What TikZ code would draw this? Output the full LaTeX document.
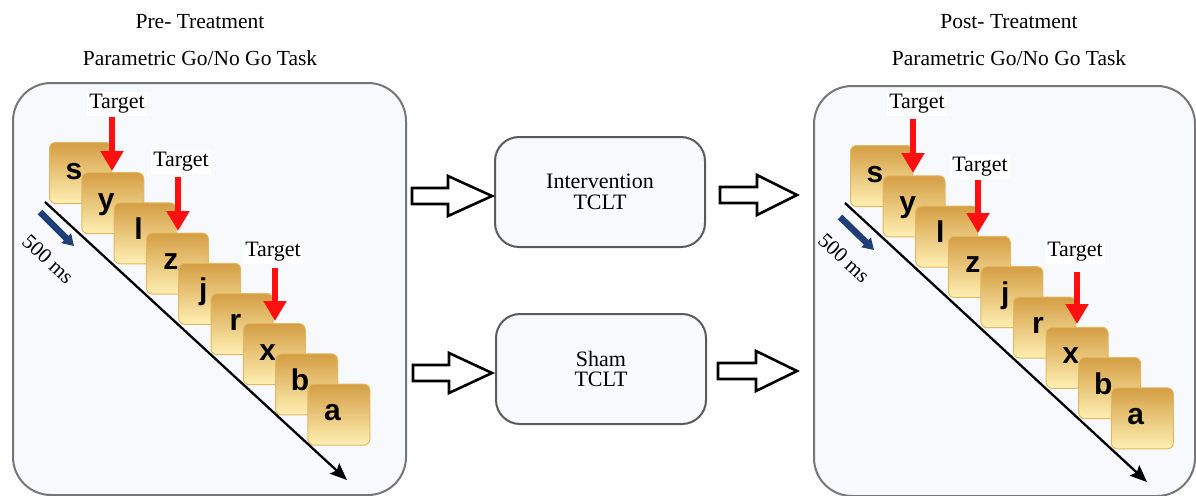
\documentclass[tikz,border=0pt]{standalone}
\usepackage{fontspec}
\setmainfont{Liberation Serif}
\newfontfamily\cardfont{Liberation Sans}
\usetikzlibrary{arrows.meta,calc}
\definecolor{cardtop}{HTML}{D49E44}
\definecolor{cardbot}{HTML}{FFF0B4}
\definecolor{cardedge}{HTML}{E4B860}
\definecolor{panelbg}{HTML}{F7F9FC}
\definecolor{panelline}{HTML}{767676}
\definecolor{boxline}{HTML}{5A5A5A}
\definecolor{blueArr}{HTML}{1F3E78}
\definecolor{redArr}{HTML}{FF1010}
\tikzset{
  panel/.style={draw=panelline, line width=2pt, fill=panelbg, rounded corners=38pt, anchor=north west},
  midbox/.style={draw=boxline, line width=2pt, fill=panelbg, rounded corners=24pt, minimum width=210pt, minimum height=110pt, align=center, font=\fontsize{22}{20.5}\selectfont},
  title/.style={font=\fontsize{21.5}{22}\selectfont, inner sep=0pt},
  target/.style={font=\fontsize{22}{22}\selectfont, fill=white, inner sep=2pt},
  card/.style={draw=cardedge, line width=1pt, top color=cardtop, bottom color=cardbot, rounded corners=6pt, minimum width=62pt, minimum height=61pt, anchor=north west},
  letter/.style={font=\cardfont\bfseries\fontsize{30}{30}\selectfont, anchor=base, inner sep=0pt},
  redarrow/.style={draw=redArr, line width=6pt, -{Triangle[width=22pt,length=20pt]}, shorten >=0pt},
  timearrow/.style={draw=black, line width=2.3pt, -{Stealth[width=14pt,length=17pt,inset=3pt]}},
  bluearrow/.style={draw=blueArr, line width=6.5pt, -{Triangle[width=13pt,length=11pt]}},
  mslabel/.style={font=\fontsize{21}{20}\selectfont, rotate=-42.6, inner sep=1pt},
  blockarrow/.style={draw=black, line width=2.6pt, fill=white, line join=miter}
}
\newcommand{\blockarr}[4]{% start coordinate, head base x-offset, total length, name
  \draw[blockarrow] ($(#1)+(0,-8)$) -- ++(#2,0) -- ++(0,-12) -- ($(#1)+(#3,0)$) -- ($(#1)+(#2,20)$) -- ++(0,-12) -- ($(#1)+(0,8)$) -- cycle;
}
\begin{document}
\begin{tikzpicture}[x=1pt,y=-1pt]
\useasboundingbox (0,0) rectangle (1196,495);
\fill[white] (0,0) rectangle (1196,495);

% titles
\node[title] (preT) at (200,22) {Pre- Treatment};
\node[title] (preG) at (200,58) {Parametric Go/No Go Task};
\node[title] (postT) at (1009,22) {Post- Treatment};
\node[title] (postG) at (1009,58) {Parametric Go/No Go Task};

% panels
\node[panel, minimum width=393pt, minimum height=412pt] (L) at (12,82) {};
\node[panel, minimum width=381pt, minimum height=410pt] (R) at (813,85) {};

% cards left
\foreach \i/\l in {0/s,1/y,2/l,3/z,4/j,5/r,6/x,7/b,8/a}{
  \node[card] (Lc\i) at ({49+32.3*\i},{142+30.2*\i}) {};
  \node[letter] (Ll\i) at ($(Lc\i.north west)+(25,37)$) {\l};
}
% cards right
\foreach \i/\l in {0/s,1/y,2/l,3/z,4/j,5/r,6/x,7/b,8/a}{
  \node[card] (Rc\i) at ({850+32.6*\i},{145+30.3*\i}) {};
  \node[letter] (Rl\i) at ($(Rc\i.north west)+(25,37)$) {\l};
}

% time arrows
\coordinate (Lts) at (45,202);
\coordinate (Lte) at (347,480);
\draw[timearrow] (Lts) -- (Lte);
\coordinate (Rts) at (845,203);
\coordinate (Rte) at (1147,482);
\draw[timearrow] (Rts) -- (Rte);

% blue arrows
\coordinate (Lbs) at (40,212);
\coordinate (Lbe) at (74,246);
\draw[bluearrow] (Lbs) -- (Lbe);
\coordinate (Rbs) at (840,217);
\coordinate (Rbe) at (874,250);
\draw[bluearrow] (Rbs) -- (Rbe);

\node[mslabel] (Lms) at (48,259) {500 ms};
\node[mslabel] (Rms) at (844,258) {500 ms};

% targets left
\node[target] (LT1) at (117,104) {Target};
\node[target] (LT2) at (181,162) {Target};
\node[target] (LT3) at (273,252) {Target};
\coordinate (La1) at (112,117); \coordinate (Lb1) at (112,171);
\coordinate (La2) at (178,177); \coordinate (Lb2) at (178,231);
\coordinate (La3) at (275,268); \coordinate (Lb3) at (275,321);
\draw[redarrow] (La1) -- (Lb1);
\draw[redarrow] (La2) -- (Lb2);
\draw[redarrow] (La3) -- (Lb3);

% targets right
\node[target] (RT1) at (917,104) {Target};
\node[target] (RT2) at (980,167) {Target};
\node[target] (RT3) at (1075,252) {Target};
\coordinate (Ra1) at (913,119); \coordinate (Rb1) at (913,173);
\coordinate (Ra2) at (978,180); \coordinate (Rb2) at (978,233);
\coordinate (Ra3) at (1077,272); \coordinate (Rb3) at (1077,324);
\draw[redarrow] (Ra1) -- (Rb1);
\draw[redarrow] (Ra2) -- (Rb2);
\draw[redarrow] (Ra3) -- (Rb3);

% middle boxes
\node[midbox] (I) at (600,192) {Intervention\\TCLT};
\node[midbox] (S) at (601,369) {Sham\\TCLT};

% block arrows
\coordinate (A1) at (412,196);
\coordinate (A2) at (720,195);
\coordinate (A3) at (413,373);
\coordinate (A4) at (718,371);
\blockarr{A1}{36}{80}{ba1}
\blockarr{A2}{37}{77}{ba2}
\blockarr{A3}{36}{79}{ba3}
\blockarr{A4}{38}{79}{ba4}
\end{tikzpicture}
\end{document}
